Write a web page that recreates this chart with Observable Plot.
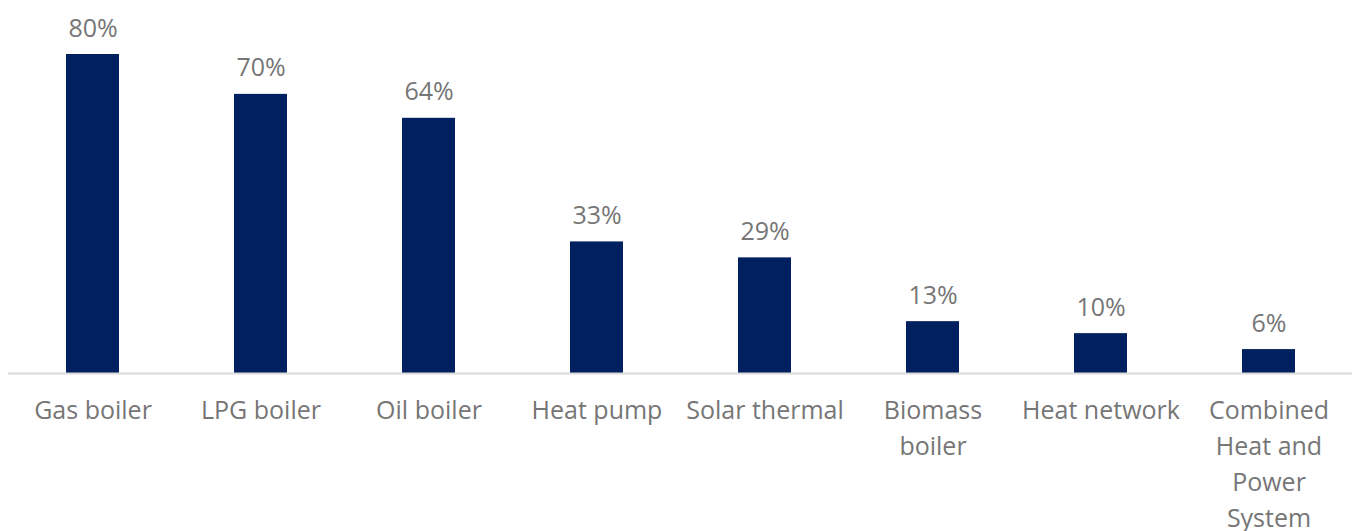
<!DOCTYPE html>
<html>
<head>
<meta charset="utf-8">
<script src="https://cdn.jsdelivr.net/npm/d3@7"></script>
<script src="https://cdn.jsdelivr.net/npm/@observablehq/plot@0.6"></script>
<style>
  html, body { margin: 0; padding: 0; background: #fff; }
  #chart { width: 1354px; height: 531px; }
</style>
</head>
<body>
<div id="chart"></div>
<script>
const categories = ["Gas boiler", "LPG boiler", "Oil boiler", "Heat pump", "Solar thermal", "Biomass boiler", "Heat network", "Combined Heat and Power System"];
const tickLabels = ["Gas boiler", "LPG boiler", "Oil boiler", "Heat pump", "Solar thermal", "Biomass\nboiler", "Heat network", "Combined\nHeat and\nPower\nSystem"];
const values = [80, 70, 64, 33, 29, 13, 10, 6];

const data = categories.map((c, i) => ({cat: c, label: tickLabels[i], value: values[i]}));

const font = "'Open Sans', 'Liberation Sans', sans-serif";
const textColor = "#767676";

const chart = Plot.plot({
  width: 1354,
  height: 531,
  marginLeft: 8,
  marginRight: 2,
  marginTop: 54,
  marginBottom: 158,
  style: {fontFamily: font, background: "#fff"},
  x: {domain: categories, paddingInner: 0.685, paddingOuter: 0.3425, axis: null},
  y: {domain: [0, 80], axis: null},
  marks: [
    Plot.barY(data, {x: "cat", y: "value", fill: "#002060"}),
    Plot.ruleY([0], {stroke: "#d9d9d9", strokeWidth: 2}),
    Plot.text(data, {x: "cat", y: "value", text: d => d.value + "%", lineAnchor: "bottom", dy: -18, fontSize: 25, fill: textColor}),
    Plot.text(data, {x: "cat", y: () => 0, text: "label", lineAnchor: "top", dy: 20, lineHeight: 1.44, fontSize: 25, fill: textColor})
  ]
});
document.getElementById("chart").appendChild(chart);
</script>
</body>
</html>
